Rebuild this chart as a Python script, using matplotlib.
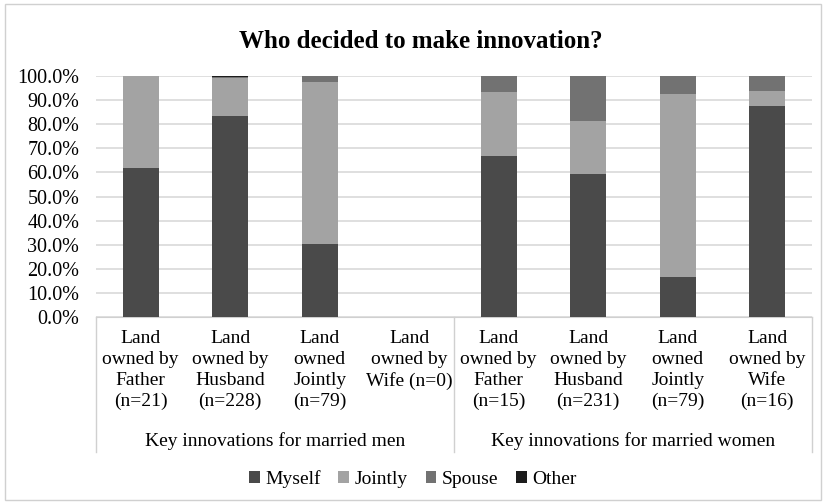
import numpy as np
import matplotlib.pyplot as plt
from matplotlib.patches import Rectangle
from matplotlib.ticker import PercentFormatter

plt.rcParams['font.family'] = ['Liberation Serif', 'DejaVu Serif']

categories = ["Land\nowned by\nFather\n(n=21)", "Land\nowned by\nHusband\n(n=228)",
              "Land\nowned\nJointly\n(n=79)", "Land\nowned by\nWife (n=0)",
              "Land\nowned by\nFather\n(n=15)", "Land\nowned by\nHusband\n(n=231)",
              "Land\nowned\nJointly\n(n=79)", "Land\nowned by\nWife\n(n=16)"]
groups = ["Key innovations for married men", "Key innovations for married women"]
series = ["Myself", "Jointly", "Spouse", "Other"]
myself = [61.9, 83.3, 30.4, 0, 66.7, 59.3, 16.5, 87.5]
jointly = [38.1, 15.8, 67.1, 0, 26.6, 22.1, 75.9, 6.25]
spouse = [0, 0.45, 2.5, 0, 6.7, 18.6, 7.6, 6.25]
other = [0, 0.45, 0, 0, 0, 0, 0, 0]
colors = ["#4a4a4a", "#a3a3a3", "#727272", "#1c1c1c"]

fig = plt.figure(figsize=(8.26, 5.04), dpi=100)
fig.patches.append(Rectangle((0.006, 0.008), 0.988, 0.984, transform=fig.transFigure,
                             fill=False, edgecolor="#d0d0d0", linewidth=1))
ax = fig.add_axes([0.1162, 0.371, 0.8668, 0.478])

x = np.arange(len(categories))
bottom = np.zeros(len(categories))
for name, vals, c in zip(series, [myself, jointly, spouse, other], colors):
    ax.bar(x, vals, 0.4, bottom=bottom, color=c, label=name, zorder=3)
    bottom += np.array(vals)

ax.set_xlim(-0.5, len(categories) - 0.5)
ax.set_ylim(0, 100)
ax.set_yticks(np.arange(0, 101, 10))
ax.yaxis.set_major_formatter(PercentFormatter(decimals=1))
ax.tick_params(axis='y', length=0, labelsize=14.5, pad=12)
ax.set_xticks([])
ax.grid(axis='y', color="#d9d9d9", linewidth=1.2, zorder=0)
for s in ["top", "right", "left"]:
    ax.spines[s].set_visible(False)
ax.spines["bottom"].set_color("#d0d0d0")

trans = ax.get_xaxis_transform()
for i, lab in enumerate(categories):
    ax.text(i, -0.055, lab, transform=trans, ha='center', va='top',
            fontsize=14, linespacing=1.3)
for j, g in enumerate(groups):
    ax.text(1.5 + 4 * j, -0.515, g, transform=trans, ha='center', va='center', fontsize=14)
for xv in [-0.5, 3.5, 7.5]:
    ax.plot([xv, xv], [0, -0.56], transform=trans, color="#d0d0d0", lw=1, clip_on=False)

fig.text(0.51, 0.918, "Who decided to make innovation?", ha='center', va='center',
         fontsize=18, fontweight='bold')
fig.legend(loc='center', bbox_to_anchor=(0.5, 0.05), ncol=4, frameon=False,
           fontsize=14, handlelength=0.55, handleheight=0.55, handletextpad=0.3,
           columnspacing=0.9)

fig.savefig("out.png", dpi=100)
